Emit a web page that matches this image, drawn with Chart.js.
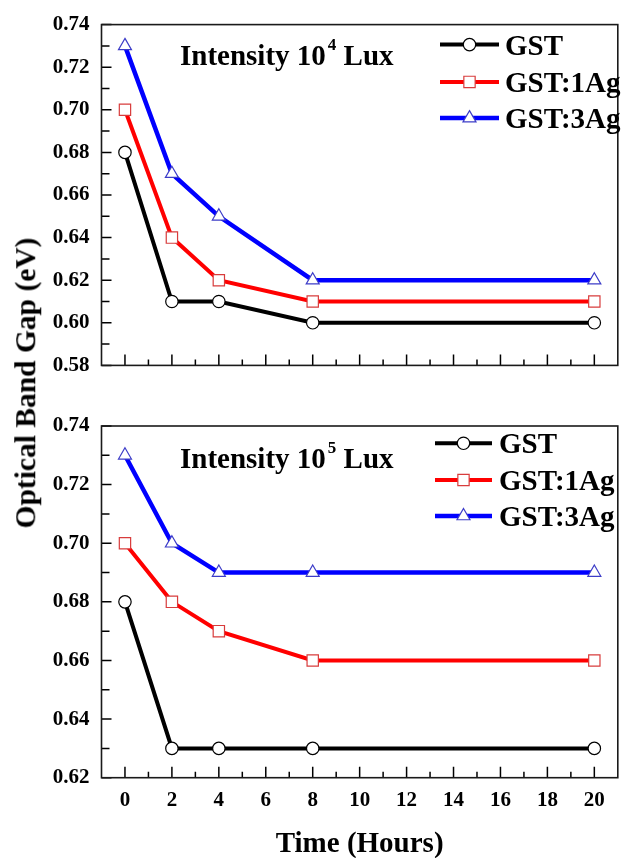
<!DOCTYPE html>
<html><head><meta charset="utf-8">
<script src="https://cdn.jsdelivr.net/npm/chart.js@4.4.0/dist/chart.umd.min.js"></script>
<style>
html,body{margin:0;padding:0;background:#fff;}
#wrap{position:relative;width:627px;height:858px;overflow:hidden;background:#fff;}
canvas{position:absolute;left:0;}
#c1{top:0;}
#c2{top:400px;}
#ytitle{position:absolute;left:26px;top:383px;transform:translate(-50%,-50%) rotate(-90deg);font:bold 29.5px "Liberation Serif","Times New Roman",serif;line-height:1;white-space:nowrap;color:#000;}
</style></head>
<body><div id="wrap">
<canvas id="c1" width="627" height="390"></canvas>
<canvas id="c2" width="627" height="458"></canvas>
<div id="ytitle">Optical Band Gap (eV)</div>
</div>
<script>
// ---- data ----
const times = [0, 2, 4, 8, 20];
const seriesNames = ['GST', 'GST:1Ag', 'GST:3Ag'];
const gst_1e4    = [0.68, 0.61, 0.61, 0.60, 0.60];
const gst1Ag_1e4 = [0.70, 0.64, 0.62, 0.61, 0.61];
const gst3Ag_1e4 = [0.73, 0.67, 0.65, 0.62, 0.62];
const gst_1e5    = [0.68, 0.63, 0.63, 0.63, 0.63];
const gst1Ag_1e5 = [0.70, 0.68, 0.67, 0.66, 0.66];
const gst3Ag_1e5 = [0.73, 0.70, 0.69, 0.69, 0.69];
const xTickValues = [0, 2, 4, 6, 8, 10, 12, 14, 16, 18, 20];
const yTicksTop = [0.58, 0.60, 0.62, 0.64, 0.66, 0.68, 0.70, 0.72, 0.74];
const yTicksBottom = [0.62, 0.64, 0.66, 0.68, 0.70, 0.72, 0.74];
const panelLabels = [['Intensity 10', '4', ' Lux'], ['Intensity 10', '5', ' Lux']];
const xTitle = 'Time (Hours)';

const FAM = '"Liberation Serif","Times New Roman",serif';
Chart.defaults.font.family = FAM;
Chart.defaults.color = '#000';

const styles = [
  {borderColor:'#000000', pointStyle:'circle', pointRadius:6.2, pointBorderColor:'#000000', borderWidth:4},
  {borderColor:'#ff0000', pointStyle:'rect', pointRadius:8, pointBorderColor:'#d83c3c', borderWidth:4},
  {borderColor:'#0000ff', pointStyle:'triangle', pointRadius:7.5, pointBorderColor:'#3c3cc8', borderWidth:4.5}
];

function mids(arr){ const r=[]; for(let i=0;i<arr.length-1;i++) r.push((arr[i]+arr[i+1])/2); return r; }

const decor = {
  id: 'decor',
  beforeDatasetsDraw(chart, args, o) {
    const {ctx, chartArea:a, scales:{x, y}} = chart;
    ctx.save();
    ctx.strokeStyle = '#000'; ctx.lineWidth = 1.5;
    ctx.beginPath();
    xTickValues.forEach(v => { const px = x.getPixelForValue(v); ctx.moveTo(px, a.bottom); ctx.lineTo(px, a.bottom - 11); });
    mids(xTickValues).forEach(v => { const px = x.getPixelForValue(v); ctx.moveTo(px, a.bottom); ctx.lineTo(px, a.bottom - 6); });
    o.yTicks.forEach(v => { const py = y.getPixelForValue(v); ctx.moveTo(a.left, py); ctx.lineTo(a.left + 10, py); });
    mids(o.yTicks).forEach(v => { const py = y.getPixelForValue(v); ctx.moveTo(a.left, py); ctx.lineTo(a.left + 8, py); });
    ctx.stroke();
    ctx.restore();
  },
  afterDraw(chart, args, o) {
    const {ctx, chartArea:a} = chart;
    ctx.save();
    ctx.strokeStyle = '#1a1a1a'; ctx.lineWidth = 1.6;
    ctx.strokeRect(a.left, a.top, a.right - a.left, a.bottom - a.top);
    ctx.fillStyle = '#000';
    ctx.textBaseline = 'alphabetic'; ctx.textAlign = 'left';
    const [t1, sup, t2] = o.label;
    let lx = a.left + o.labelX, ly = a.top + o.labelY;
    ctx.font = 'bold 29px ' + FAM;
    ctx.fillText(t1, lx, ly);
    lx += ctx.measureText(t1).width + 2;
    ctx.font = 'bold 17px ' + FAM;
    ctx.fillText(sup, lx, ly - 15);
    lx += ctx.measureText(sup).width;
    ctx.font = 'bold 29px ' + FAM;
    ctx.fillText(t2, lx, ly);
    chart.data.datasets.forEach((ds, i) => {
      const yy = a.top + o.legendRows[i];
      ctx.strokeStyle = ds.borderColor; ctx.lineWidth = ds.borderWidth;
      ctx.beginPath(); ctx.moveTo(o.legX0, yy); ctx.lineTo(o.legX1, yy); ctx.stroke();
      ctx.fillStyle = '#fff'; ctx.strokeStyle = ds.pointBorderColor; ctx.lineWidth = 1.2;
      Chart.helpers.drawPoint(ctx, {pointStyle: ds.pointStyle, radius: ds.pointRadius, borderWidth: 1.2, rotation: 0}, (o.legX0 + o.legX1) / 2, yy);
      ctx.fillStyle = '#000';
      ctx.font = 'bold 29px ' + FAM;
      ctx.fillText(ds.label, o.legText, yy + 10);
    });
    ctx.restore();
  }
};

function buildDatasets(vals) {
  return vals.map((v, i) => ({
    label: seriesNames[i],
    data: times.map((t, j) => ({x: t, y: v[j]})),
    borderColor: styles[i].borderColor,
    borderWidth: styles[i].borderWidth,
    pointStyle: styles[i].pointStyle,
    pointRadius: styles[i].pointRadius,
    pointHoverRadius: styles[i].pointRadius,
    pointBackgroundColor: '#ffffff',
    pointBorderColor: styles[i].pointBorderColor,
    pointBorderWidth: 1.2,
    tension: 0,
    fill: false,
    clip: false
  }));
}

function makeChart(id, vals, yTicks, yMin, yMax, bottom, panel) {
  return new Chart(document.getElementById(id), {
    type: 'line',
    data: { datasets: buildDatasets(vals) },
    options: {
      responsive: false, animation: false, devicePixelRatio: 1,
      layout: { padding: { top: bottom ? 26 : 22.3, right: 1, left: 0, bottom: 0 } },
      plugins: {
        legend: { display: false }, tooltip: { enabled: false },
        decor: panel
      },
      scales: {
        x: {
          type: 'linear', min: -1, max: 21,
          grid: { display: false, drawTicks: false }, border: { display: false },
          afterBuildTicks: s => { s.ticks = xTickValues.map(v => ({value: v})); },
          afterFit: s => { s.height = bottom ? 458 - 377.7 : 390 - 373.3; },
          ticks: { display: bottom, font: { size: 21, weight: 'bold' }, color: '#000', padding: 10, maxRotation: 0, autoSkip: false },
          title: { display: bottom, text: xTitle, font: { size: 29, weight: 'bold', lineHeight: 1 }, color: '#000', padding: { top: 0, bottom: -1 } }
        },
        y: {
          type: 'linear', min: yMin, max: yMax,
          grid: { display: false, drawTicks: false }, border: { display: false },
          afterBuildTicks: s => { s.ticks = yTicks.map(v => ({value: v})); },
          afterFit: s => { s.width = 101.5; },
          ticks: { font: { size: 21, weight: 'bold' }, color: '#000', padding: 12, callback: v => Number(v).toFixed(2) }
        }
      }
    },
    plugins: [decor]
  });
}

makeChart('c1', [gst_1e4, gst1Ag_1e4, gst3Ag_1e4], yTicksTop, 0.58, 0.74, false,
  { yTicks: yTicksTop, label: panelLabels[0], labelX: 78.5, labelY: 40.7,
    legX0: 440, legX1: 499, legText: 505, legendRows: [20, 57.3, 93.5] });
makeChart('c2', [gst_1e5, gst1Ag_1e5, gst3Ag_1e5], yTicksBottom, 0.62, 0.74, true,
  { yTicks: yTicksBottom, label: panelLabels[1], labelX: 78.5, labelY: 41.5,
    legX0: 435, legX1: 492, legText: 499, legendRows: [17.3, 54, 90] });
</script>
</body></html>
